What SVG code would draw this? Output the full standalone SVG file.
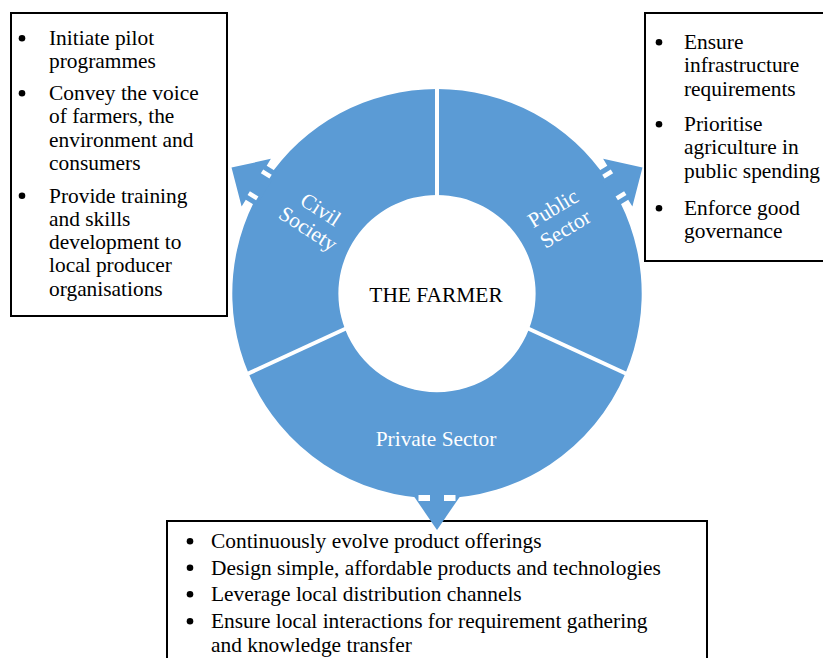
<svg xmlns="http://www.w3.org/2000/svg" width="823" height="658" viewBox="0 0 823 658">
<style>
.box{fill:#fff;stroke:#000;stroke-width:2}
.t{font-family:"Liberation Serif","Times New Roman",serif;font-size:21.4px;fill:#000}
.b{fill:#000}
.seg{fill:#5B9BD5}
.lbl{font-family:"Liberation Serif","Times New Roman",serif;font-size:21.4px;fill:#fff;text-anchor:middle}
.div{stroke:#fff;stroke-width:4;fill:none}
.arr{fill:#5B9BD5}
.notch{fill:#fff}
</style>
<defs>
<g id="arrowDown">
<polygon class="arr" points="-24,201.5 24,201.5 0,236.5"/>
<rect class="notch" x="-18.5" y="201.5" width="11.5" height="6"/>
<rect class="notch" x="7" y="201.5" width="11.5" height="6"/>
</g>
<g id="arrowSide">
<polygon class="arr" points="-20,200 20,200 20,212 28,212 0,241 -28,212 -20,212"/>
<rect class="notch" x="-15" y="203" width="4.5" height="10"/>
<rect class="notch" x="10.5" y="203" width="4.5" height="10"/>
</g>
</defs>
<rect width="823" height="658" fill="#fff"/>

<g id="box-civil">
<rect class="box" x="11" y="13" width="216" height="303"/>
<circle class="b" cx="22" cy="38.3" r="3.3"/>
<circle class="b" cx="22" cy="93.3" r="3.3"/>
<circle class="b" cx="22" cy="195.8" r="3.3"/>
<text class="t" x="49" y="45">Initiate pilot</text>
<text class="t" x="49" y="67.5">programmes</text>
<text class="t" x="49" y="100">Convey the voice</text>
<text class="t" x="49" y="123">of farmers, the</text>
<text class="t" x="49" y="146.5">environment and</text>
<text class="t" x="49" y="169.5">consumers</text>
<text class="t" x="49" y="202.5">Provide training</text>
<text class="t" x="49" y="225.5">and skills</text>
<text class="t" x="49" y="249">development to</text>
<text class="t" x="49" y="272">local producer</text>
<text class="t" x="49" y="295.5">organisations</text>
</g>

<g id="box-public">
<rect class="box" x="645" y="13" width="200" height="248"/>
<circle class="b" cx="659" cy="42.3" r="3.3"/>
<circle class="b" cx="659" cy="124.3" r="3.3"/>
<circle class="b" cx="659" cy="208.3" r="3.3"/>
<text class="t" x="684" y="49">Ensure</text>
<text class="t" x="684" y="72.3">infrastructure</text>
<text class="t" x="684" y="95.6">requirements</text>
<text class="t" x="684" y="131">Prioritise</text>
<text class="t" x="684" y="154.3">agriculture in</text>
<text class="t" x="684" y="177.6">public spending</text>
<text class="t" x="684" y="215">Enforce good</text>
<text class="t" x="684" y="238.3">governance</text>
</g>

<g id="box-private">
<rect class="box" x="167" y="521" width="540" height="150"/>
<circle class="b" cx="190" cy="541.3" r="3.3"/>
<circle class="b" cx="190" cy="567.8" r="3.3"/>
<circle class="b" cx="190" cy="594.3" r="3.3"/>
<circle class="b" cx="190" cy="621.3" r="3.3"/>
<text class="t" x="211" y="548">Continuously evolve product offerings</text>
<text class="t" x="211" y="574.5">Design simple, affordable products and technologies</text>
<text class="t" x="211" y="601">Leverage local distribution channels</text>
<text class="t" x="211" y="628">Ensure local interactions for requirement gathering</text>
<text class="t" x="211" y="651.5">and knowledge transfer</text>
</g>

<g id="seg-civil">
<path class="seg" d="M248.6 373.5 A204.5 204.5 0 0 1 437 89 L437 195 A98.5 98.5 0 0 0 345 329 Z"/>
<text class="lbl" transform="translate(314 219.5) rotate(33)"><tspan x="0" y="-5">Civil</tspan><tspan x="0" y="18">Society</tspan></text>
</g>
<g id="seg-public">
<path class="seg" d="M437 89 A204.5 204.5 0 0 1 625.4 373.5 L529 329 A98.5 98.5 0 0 0 437 195 Z"/>
<text class="lbl" transform="translate(559.2 218.7) rotate(-31)"><tspan x="0" y="-5">Public</tspan><tspan x="0" y="19">Sector</tspan></text>
</g>
<g id="seg-private">
<path class="seg" d="M625.4 373.5 A204.5 204.5 0 0 1 248.6 373.5 L345 329 A98.5 98.5 0 0 0 529 329 Z"/>
<text class="lbl" x="436" y="446">Private Sector</text>
</g>
<g id="dividers">
<line class="div" x1="437" y1="85" x2="437" y2="199"/>
<line class="div" x1="347" y1="328" x2="245" y2="375"/>
<line class="div" x1="527" y1="328" x2="629" y2="375"/>
</g>
<g id="farmer">
<text class="t" x="436" y="301.5" text-anchor="middle">THE FARMER</text>
</g>

<g id="connectors">
<use href="#arrowSide" transform="translate(437 293.5) rotate(121.5)"/>
<use href="#arrowSide" transform="translate(437 293.5) rotate(-121.5)"/>
<use href="#arrowDown" transform="translate(437 293.5)"/>
</g>
</svg>
